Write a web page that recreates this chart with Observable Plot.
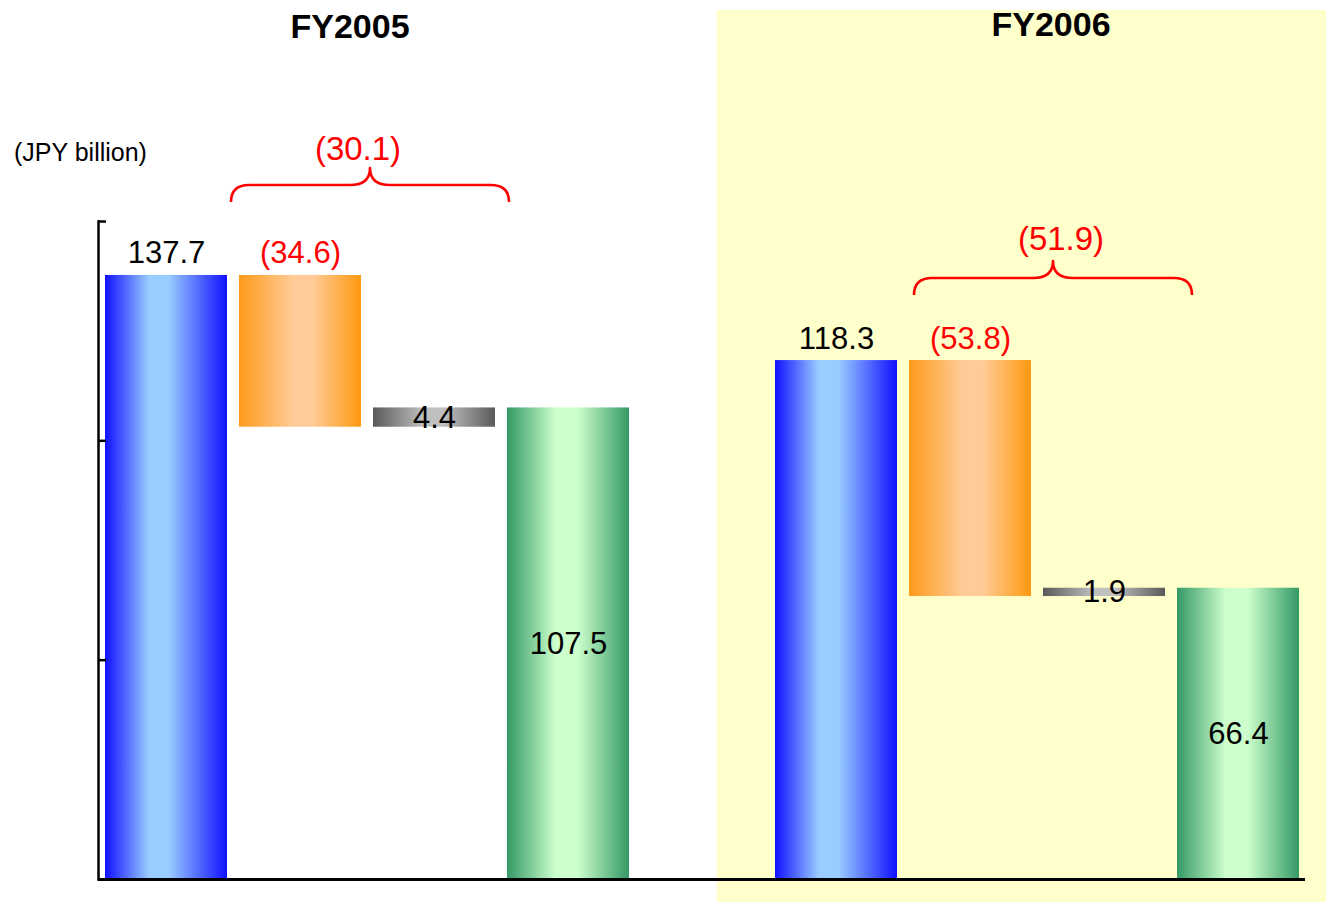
<!DOCTYPE html>
<html><head><meta charset="utf-8">
<script src="https://cdn.jsdelivr.net/npm/d3@7"></script>
<script src="https://cdn.jsdelivr.net/npm/@observablehq/plot@0.6"></script>
<style>body{margin:0;background:#fff;} #chart svg{display:block}</style>
</head><body><div id="chart"></div>
<script>
// ---- data ----
const years = ["FY2005", "FY2006"];
const startValues = [137.7, 118.3];
const decreaseValues = [-34.6, -53.8];
const otherValues = [4.4, 1.9];
const endValues = [107.5, 66.4];
const netChangeValues = [-30.1, -51.9];
const steps = ["start", "decrease", "other", "end"];
const yTicks = [0, 50, 100, 150];
const unitLabel = "(JPY billion)";
const gapKey = "gap";

// ---- styles ----
const FONT = "'Liberation Sans', Arial, Helvetica, sans-serif";
const RED = "#FF0000";
const gradients = {
  start:    [[0, "#1010ff"], [0.36, "#99ccff"], [0.52, "#99ccff"], [1, "#1010ff"]],
  decrease: [[0, "#ff9a1a"], [0.45, "#ffcc99"], [0.6, "#ffcc99"], [1, "#ff9911"]],
  other:    [[0, "#595959"], [0.42, "#c0c0c0"], [0.58, "#c0c0c0"], [1, "#595959"]],
  end:      [[0, "#339966"], [0.4, "#ccffcc"], [0.58, "#ccffcc"], [1, "#339966"]]
};
const groupStyle = [
  {braceLeft: -8, braceRight: 2, braceLift: 73, labelDx: -12, labelGap: 8, titleDx: -17, titleY: 38},
  {braceLeft: 5, braceRight: 15, braceLift: 65, labelDx: 8, labelGap: 11, titleDx: 14, titleY: 36}
];

const fmt = v => v < 0 ? `(${Math.abs(v).toFixed(1)})` : v.toFixed(1);

const xDomain = [];
years.forEach((y, i) => {
  if (i > 0) xDomain.push(gapKey);
  steps.forEach(s => xDomain.push(`${y} ${s}`));
});

const bars = [];
years.forEach((year, i) => {
  const s = startValues[i], d = decreaseValues[i], o = otherValues[i], e = endValues[i];
  const afterDec = s + d;
  bars.push({year, step: "start", key: `${year} start`, y1: 0, y2: s, value: s});
  bars.push({year, step: "decrease", key: `${year} decrease`, y1: afterDec, y2: s, value: d});
  bars.push({year, step: "other", key: `${year} other`, y1: afterDec, y2: afterDec + o, value: o});
  bars.push({year, step: "end", key: `${year} end`, y1: 0, y2: e, value: e});
});
const topLabels = bars.filter(b => b.step === "start" || b.step === "decrease");
const midLabels = bars.filter(b => b.step === "other" || b.step === "end");

// background + gradient definitions
function background(index, scales, values, dimensions) {
  const sx = scales.x, bw = sx.bandwidth();
  const g = d3.create("svg:g");
  const defs = g.append("defs");
  for (const [step, stops] of Object.entries(gradients)) {
    const lg = defs.append("linearGradient").attr("id", `grad-${step}`)
      .attr("x1", "0").attr("x2", "1").attr("y1", "0").attr("y2", "0");
    for (const [o, c] of stops) lg.append("stop").attr("offset", o).attr("stop-color", c);
  }
  const x0 = sx(gapKey) + bw * 0.62;
  g.append("rect").attr("x", x0).attr("y", 10)
    .attr("width", 1326 - x0).attr("height", 902 - 10)
    .attr("fill", "#FFFFCC");
  return g.node();
}

// braces, titles, unit label
function annotations(index, scales, values, dimensions) {
  const sx = scales.x, sy = scales.y, bw = sx.bandwidth();
  const g = d3.create("svg:g").attr("font-family", FONT);
  years.forEach((year, i) => {
    const st = groupStyle[i];
    const x1 = sx(`${year} decrease`) + st.braceLeft;
    const x2 = sx(`${year} end`) + st.braceRight;
    const yEnd = sy(startValues[i]) - st.braceLift;
    const yLine = yEnd - 17, yTip = yLine - 17;
    const xm = (x1 + x2) / 2, r = 18, rc = 20;
    const d = `M${x1},${yEnd} Q${x1},${yLine} ${x1 + r},${yLine} L${xm - rc},${yLine} ` +
      `Q${xm},${yLine} ${xm},${yTip} Q${xm},${yLine} ${xm + rc},${yLine} ` +
      `L${x2 - r},${yLine} Q${x2},${yLine} ${x2},${yEnd}`;
    g.append("path").attr("d", d).attr("fill", "none").attr("stroke", RED)
      .attr("stroke-width", 2.6).attr("stroke-linejoin", "round");
    g.append("text").attr("x", xm + st.labelDx).attr("y", yTip - st.labelGap)
      .attr("text-anchor", "middle").attr("fill", RED).attr("font-size", 33)
      .text(fmt(netChangeValues[i]));
    const gc = (sx(`${year} start`) + sx(`${year} end`) + bw) / 2 + st.titleDx;
    g.append("text").attr("x", gc).attr("y", st.titleY)
      .attr("text-anchor", "middle").attr("font-weight", "bold").attr("font-size", 34)
      .attr("fill", "black").text(year);
  });
  g.append("text").attr("x", sx(`${years[0]} start`) - 91).attr("y", sy(yTicks[yTicks.length - 1]) - 60)
    .attr("text-anchor", "start").attr("font-size", 25).attr("fill", "black").text(unitLabel);
  return g.node();
}

const chart = Plot.plot({
  width: 1326,
  height: 902,
  marginLeft: 98,
  marginRight: 21,
  marginTop: 221,
  marginBottom: 23,
  style: {fontFamily: FONT, background: "white", overflow: "visible"},
  x: {type: "band", domain: xDomain, paddingInner: 0.0896, paddingOuter: 0.0448, axis: null},
  y: {domain: [0, 150], axis: null},
  marks: [
    background,
    ...steps.map(step => Plot.barY(bars.filter(b => b.step === step), {
      x: "key", y1: "y1", y2: "y2", fill: `url(#grad-${step})`
    })),
    Plot.text(topLabels, {
      x: "key", y: "y2", text: d => fmt(d.value), lineAnchor: "bottom", dy: -12,
      fontSize: 31, fill: d => d.value < 0 ? RED : "black"
    }),
    Plot.text(midLabels, {
      x: "key", y: d => (d.y1 + d.y2) / 2, text: d => fmt(d.value), lineAnchor: "middle",
      fontSize: 31, fill: "black"
    }),
    Plot.frame({anchor: "left", stroke: "black", strokeWidth: 2.5}),
    Plot.axisY({ticks: yTicks, tickSize: 8, dx: 8, tickFormat: () => "", stroke: "black", strokeWidth: 2.5}),
    Plot.ruleY([0], {stroke: "black", strokeWidth: 3}),
    annotations
  ]
});
document.getElementById("chart").appendChild(chart);
</script>
</body></html>
